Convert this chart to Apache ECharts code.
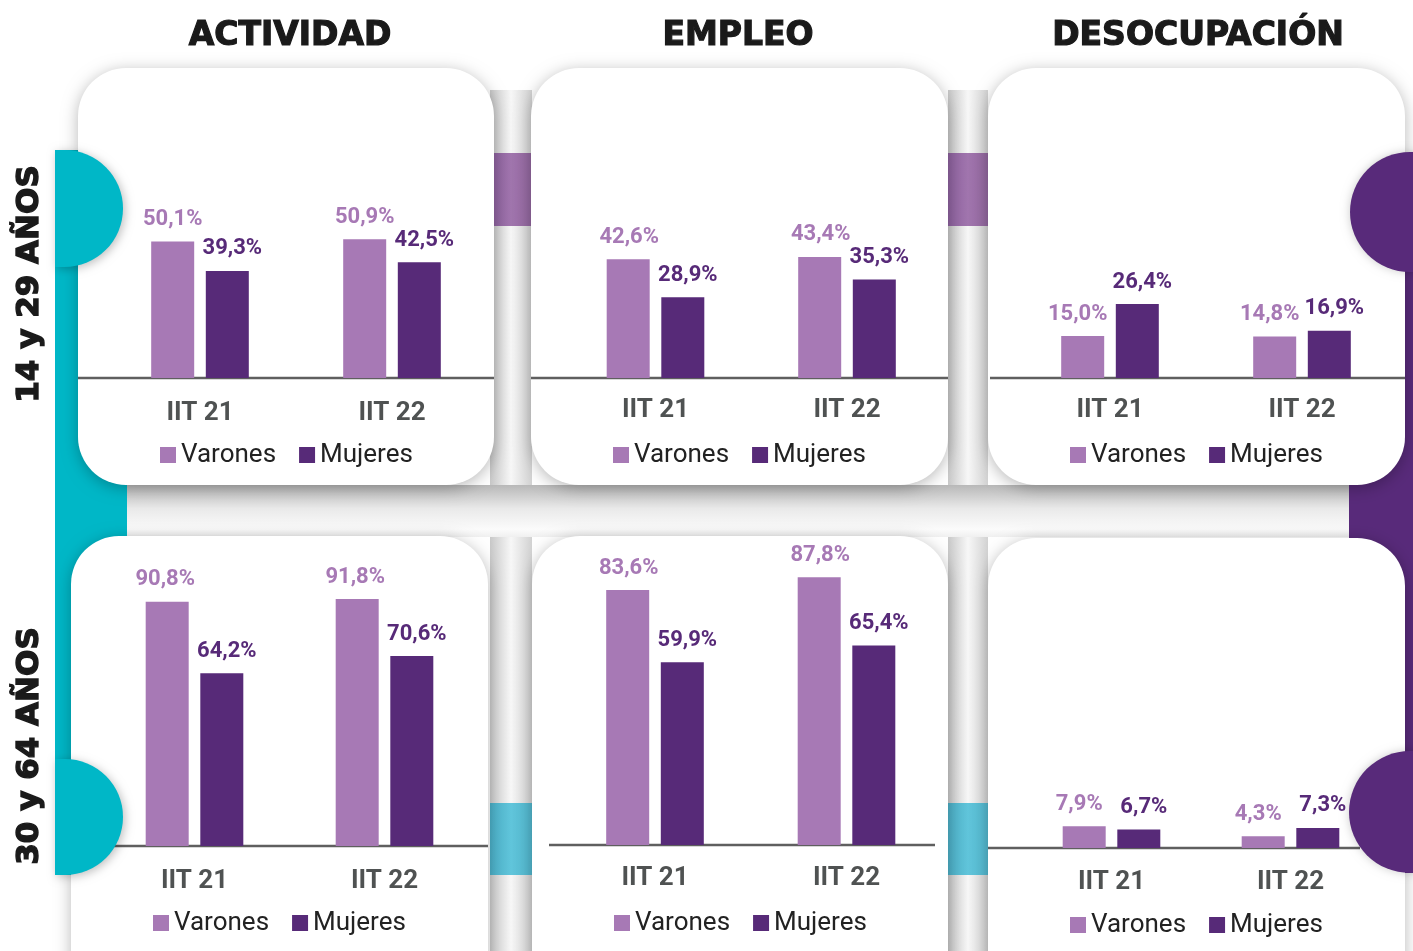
<!DOCTYPE html>
<html>
<head>
<meta charset="utf-8">
<script src="https://cdn.jsdelivr.net/npm/echarts@6/dist/echarts.min.js"></script>
<style>html,body{margin:0;padding:0;background:#fff;}#chart{width:1413px;height:951px;}</style>
</head>
<body>
<div id="chart"></div>
<script>
// ---- DATA ----
const categories = ['IIT 21', 'IIT 22'];
const seriesNames = ['Varones', 'Mujeres'];
const columnTitles = ['ACTIVIDAD', 'EMPLEO', 'DESOCUPACIÓN'];
const rowLabels = ['14 y 29 AÑOS', '30 y 64 AÑOS'];
const actividadJovenesVarones = [50.1, 50.9];
const actividadJovenesMujeres = [39.3, 42.5];
const empleoJovenesVarones = [42.6, 43.4];
const empleoJovenesMujeres = [28.9, 35.3];
const desocupacionJovenesVarones = [15.0, 14.8];
const desocupacionJovenesMujeres = [26.4, 16.9];
const actividadAdultosVarones = [90.8, 91.8];
const actividadAdultosMujeres = [64.2, 70.6];
const empleoAdultosVarones = [83.6, 87.8];
const empleoAdultosMujeres = [59.9, 65.4];
const desocupacionAdultosVarones = [7.9, 4.3];
const desocupacionAdultosMujeres = [6.7, 7.3];

const panelData = [
  [actividadJovenesVarones, actividadJovenesMujeres],
  [empleoJovenesVarones, empleoJovenesMujeres],
  [desocupacionJovenesVarones, desocupacionJovenesMujeres],
  [actividadAdultosVarones, actividadAdultosMujeres],
  [empleoAdultosVarones, empleoAdultosMujeres],
  [desocupacionAdultosVarones, desocupacionAdultosMujeres]
];

// ---- LAYOUT / STYLE ----
const C_LIGHT = '#a779b5', C_DARK = '#572a78';
const TEAL = '#00b7c7', PURPLE = '#582a7a';
const layout = [
  {card:[78,68,416,417],  left:104,    width:384, base:378, scale:2.725, margin:22, lx:155,  ly:437, line:[78,494],   vOff:0},
  {card:[531,68,417,417], left:559.75, width:383, base:378, scale:2.79,  margin:19, lx:608,  ly:437, line:[531,948],  vOff:1},
  {card:[988,68,417,417], left:1014,   width:384, base:378, scale:2.8,   margin:19, lx:1065, ly:437, line:[990,1405], vOff:-5},
  {card:[71,536,417,470], left:99.5,   width:380, base:846, scale:2.69,  margin:22, lx:148,  ly:905, line:[71,488],   vOff:-2},
  {card:[532,536,416,470],left:559.25, width:383, base:845, scale:3.05,  margin:20, lx:609,  ly:905, line:[549,935],  vOff:1},
  {card:[988,538,417,470],left:1022,   width:358, base:848, scale:2.75,  margin:21, lx:1065, ly:907, line:[988,1360], vOff:-5}
];
const titleX = [290, 738, 1198];

const fmt = p => p.value.toFixed(1).replace('.', ',') + '%';

const grids = [], xAxes = [], yAxes = [], series = [], legends = [], graphics = [];

// background tubes
const vGrad = {type:'linear',x:0,y:0,x2:1,y2:0,colorStops:[{offset:0,color:'#c8c8c8'},{offset:0.5,color:'#f7f7f7'},{offset:1,color:'#d2d2d2'}]};
const hGrad = {type:'linear',x:0,y:0,x2:0,y2:1,colorStops:[{offset:0,color:'#b8b8b8'},{offset:0.45,color:'#e9e9e9'},{offset:0.85,color:'#fbfbfb'},{offset:1,color:'#f0f0f0'}]};
const pGrad = {type:'linear',x:0,y:0,x2:1,y2:0,colorStops:[{offset:0,color:'#8c609e'},{offset:0.5,color:'#a175ae'},{offset:1,color:'#93679f'}]};
const tGrad = {type:'linear',x:0,y:0,x2:1,y2:0,colorStops:[{offset:0,color:'#4aaec6'},{offset:0.5,color:'#60c5db'},{offset:1,color:'#52b8cf'}]};
[[490,532],[948,988]].forEach(([a,b]) => {
  graphics.push({type:'rect', z:1, shape:{x:a,y:90,width:b-a,height:870}, style:{fill:vGrad}});
});
graphics.push({type:'rect', z:1, shape:{x:120,y:485,width:1235,height:52}, style:{fill:hGrad}});
[[490,532],[946,990]].forEach(([a,b]) => {
  graphics.push({type:'rect', z:2, shape:{x:a,y:153,width:b-a,height:73}, style:{fill:pGrad}});
  graphics.push({type:'rect', z:2, shape:{x:a,y:803,width:b-a,height:72}, style:{fill:tGrad}});
});
// side bars
graphics.push({type:'rect', z:3, shape:{x:55,y:150,width:72,height:725}, style:{fill:TEAL}});
graphics.push({type:'rect', z:3, shape:{x:1349,y:153,width:64,height:720}, style:{fill:PURPLE}});

layout.forEach((L, i) => {
  const [cx, cy, cw, ch] = L.card;
  graphics.push({type:'rect', z:5, shape:{x:cx,y:cy,width:cw,height:ch,r:48},
    style:{fill:'#ffffff', shadowBlur:16, shadowColor:'rgba(0,0,0,0.28)', shadowOffsetY:3}});
  graphics.push({type:'line', z:6, shape:{x1:L.line[0],y1:L.base,x2:L.line[1],y2:L.base},
    style:{stroke:'#5f5f5f', lineWidth:2.5}});
  const h = 100 * L.scale;
  grids.push({left:L.left, top:L.base - h, width:L.width, height:h});
  xAxes.push({type:'category', gridIndex:i, data:categories, z:20,
    axisLine:{show:false}, axisTick:{show:false},
    axisLabel:{margin:L.margin, color:'#4f5252', fontSize:26, fontWeight:'bold', fontFamily:'Roboto'}});
  yAxes.push({type:'value', gridIndex:i, min:0, max:100, show:false, splitLine:{show:false}});
  const [v, m] = panelData[i];
  series.push({name:seriesNames[0], type:'bar', xAxisIndex:i, yAxisIndex:i, data:v, z:20,
    barWidth:43, barGap:'27%', itemStyle:{color:C_LIGHT},
    label:{show:true, position:'top', distance:11, offset:[L.vOff,0], formatter:fmt, color:C_LIGHT,
      fontSize:22, fontWeight:'bold', fontFamily:'Roboto'}});
  series.push({name:seriesNames[1], type:'bar', xAxisIndex:i, yAxisIndex:i, data:m, z:20,
    barWidth:43, barGap:'27%', itemStyle:{color:C_DARK},
    label:{show:true, position:'top', distance:11, offset:[5,0], formatter:fmt, color:C_DARK,
      fontSize:22, fontWeight:'bold', fontFamily:'Roboto'}});
  legends.push({data:seriesNames, left:L.lx, top:L.ly, z:20, icon:'rect', itemWidth:16, itemHeight:16,
    itemGap:23, selectedMode:false, textStyle:{fontSize:26, color:'#222', fontFamily:'Roboto'}});
});

// circles / half circles
graphics.push({type:'rect', z:8, shape:{x:55,y:150,width:68,height:117,r:[0,58.5,58.5,0]},
  style:{fill:TEAL, shadowBlur:10, shadowColor:'rgba(0,0,0,0.25)', shadowOffsetX:2, shadowOffsetY:2}});
graphics.push({type:'rect', z:8, shape:{x:55,y:759,width:68,height:116,r:[0,58,58,0]},
  style:{fill:TEAL, shadowBlur:10, shadowColor:'rgba(0,0,0,0.25)', shadowOffsetX:2, shadowOffsetY:2}});
graphics.push({type:'circle', z:8, shape:{cx:1410,cy:212,r:60},
  style:{fill:PURPLE, shadowBlur:10, shadowColor:'rgba(0,0,0,0.2)'}});
graphics.push({type:'circle', z:8, shape:{cx:1410,cy:812,r:61},
  style:{fill:PURPLE, shadowBlur:10, shadowColor:'rgba(0,0,0,0.2)'}});

// titles
columnTitles.forEach((t, i) => {
  graphics.push({type:'text', z:10, x:titleX[i], y:36,
    style:{text:t, fill:'#1a1a1a', stroke:'#1a1a1a', lineWidth:1.2, font:"bold 33px 'DejaVu Sans'", textAlign:'center', textVerticalAlign:'middle'}});
});
[284, 746].forEach((yy, i) => {
  graphics.push({type:'text', z:10, x:30, y:yy, rotation:Math.PI/2,
    style:{text:rowLabels[i], fill:'#1a1a1a', stroke:'#1a1a1a', lineWidth:1.4, font:"bold 31px 'DejaVu Sans'", textAlign:'center', textVerticalAlign:'middle'}});
});

const chart = echarts.init(document.getElementById('chart'));
chart.setOption({
  backgroundColor:'#ffffff',
  animation:false,
  grid:grids, xAxis:xAxes, yAxis:yAxes, series:series, legend:legends,
  graphic:{elements:graphics}
});
</script>
</body>
</html>
